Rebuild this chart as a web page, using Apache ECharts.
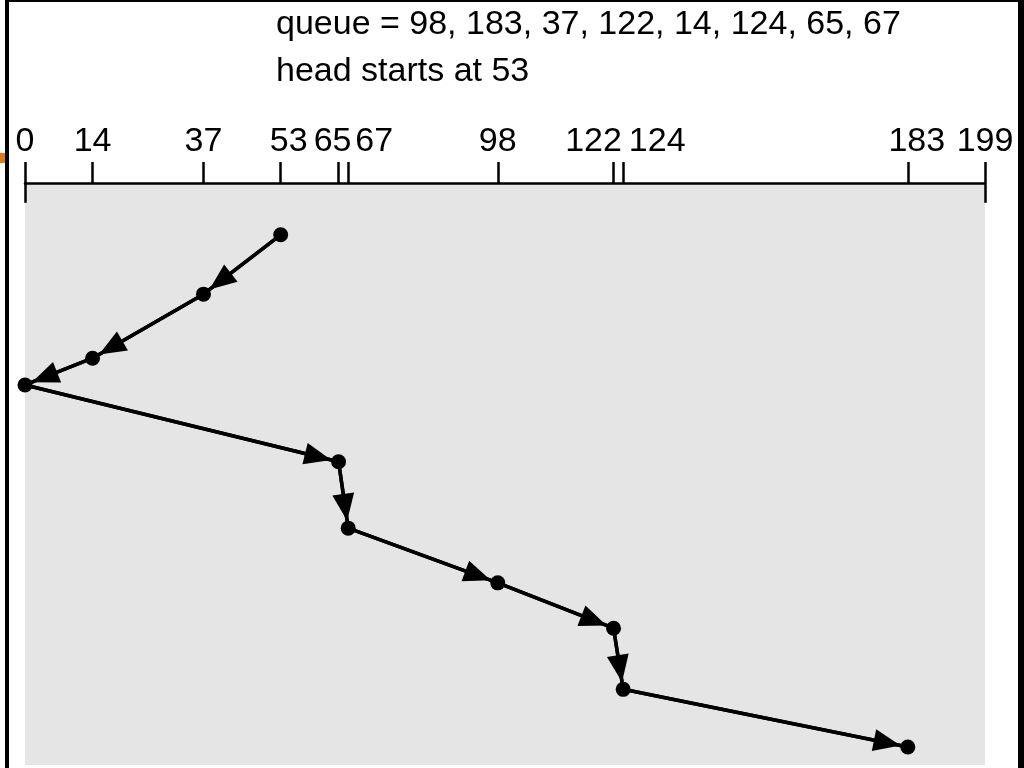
<!DOCTYPE html>
<html>
<head>
<meta charset="utf-8">
<script src="https://cdn.jsdelivr.net/npm/echarts@6/dist/echarts.min.js"></script>
<style>
html,body{margin:0;padding:0;background:#fff;}
#chart{width:1024px;height:768px;}
</style>
</head>
<body>
<div id="chart"></div>
<script>
// Cylinder tick labels on the top axis
const tickValues = [0, 14, 37, 53, 65, 67, 98, 122, 124, 183, 199];
// Head path (cylinder visited in order) and relative time of each visit
const headCylinders = [53, 37, 14, 0, 65, 67, 98, 122, 124, 183];
const visitTimes = [8.9, 19.1, 30.1, 34.7, 47.9, 59.3, 68.7, 76.5, 87.0, 96.9];
const titleLines = ['queue = 98, 183, 37, 122, 14, 124, 65, 67', 'head starts at 53'];

// label horizontal nudges (style only) so crowded labels sit side by side
const labelNudge = {53: 8, 65: -6, 67: 26, 122: -20, 124: 34, 183: 9};

const FONT = '"Liberation Sans", Arial, Helvetica, sans-serif';

const points = headCylinders.map((c, i) => [c, visitTimes[i]]);

const arrows = [];
for (let i = 1; i < points.length; i++) {
  arrows.push([
    {coord: points[i - 1], symbol: 'none'},
    {coord: points[i], symbol: 'triangle', symbolSize: [22, 27], symbolOffset: [0, 21]}
  ]);
}
// longer end ticks of the cylinder scale
[tickValues[0], tickValues[tickValues.length - 1]].forEach(v => {
  arrows.push([
    {coord: [v, 0], symbol: 'none', lineStyle: {width: 2.5}},
    {coord: [v, 3.4], symbol: 'none'}
  ]);
});

const rich = {};
Object.keys(labelNudge).forEach(k => {
  const s = labelNudge[k];
  rich['n' + k] = {
    fontSize: 34, fontFamily: FONT, color: '#000',
    padding: s > 0 ? [0, 0, 0, 2 * s] : [0, -2 * s, 0, 0]
  };
});

const chart = echarts.init(document.getElementById('chart'), null, {renderer: 'canvas'});
chart.setOption({
  animation: false,
  backgroundColor: '#ffffff',
  title: {
    text: titleLines.join('\n'),
    left: 276, top: 1, padding: 0,
    textStyle: {fontSize: 34, fontWeight: 'normal', color: '#000', fontFamily: FONT, lineHeight: 47}
  },
  grid: {
    left: 25, right: 39, top: 183, bottom: 3,
    show: true, backgroundColor: '#e5e5e5', borderWidth: 0
  },
  xAxis: {
    type: 'value', position: 'top', min: 0, max: 199,
    axisLine: {show: true, lineStyle: {color: '#000', width: 2.5}},
    axisTick: {show: true, customValues: tickValues, length: 21, lineStyle: {color: '#000', width: 2.5}},
    axisLabel: {
      show: true, customValues: tickValues, margin: 24,
      fontSize: 34, fontFamily: FONT, color: '#000',
      formatter: v => (labelNudge[v] !== undefined ? '{n' + v + '|' + v + '}' : String(v)),
      rich: rich
    },
    splitLine: {show: false}
  },
  yAxis: {
    type: 'value', inverse: true, min: 0, max: 100, show: false
  },
  series: [{
    type: 'line',
    data: points,
    symbol: 'circle', symbolSize: 15,
    itemStyle: {color: '#000'},
    lineStyle: {color: '#000', width: 3.5},
    silent: true,
    z: 3,
    markLine: {
      silent: true,
      animation: false,
      symbol: ['none', 'none'],
      label: {show: false},
      emphasis: {disabled: true},
      lineStyle: {color: '#000', width: 3.5, type: 'solid'},
      itemStyle: {color: '#000'},
      data: arrows
    }
  }],
  graphic: [
    {type: 'rect', shape: {x: 5, y: 0, width: 4, height: 768}, style: {fill: '#000'}},
    {type: 'rect', shape: {x: 1018, y: 0, width: 6, height: 768}, style: {fill: '#000'}},
    {type: 'rect', shape: {x: 5, y: 0, width: 1019, height: 2}, style: {fill: '#000'}},
    {type: 'rect', shape: {x: 0, y: 153, width: 5, height: 10}, style: {fill: '#e8770e'}}
  ]
});
</script>
</body>
</html>
